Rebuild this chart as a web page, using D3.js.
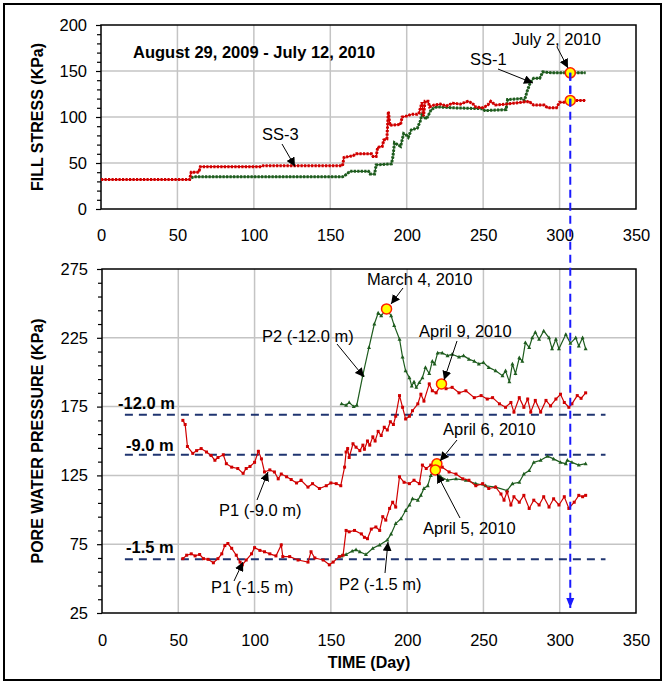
<!DOCTYPE html>
<html><head><meta charset="utf-8">
<script src="https://cdn.jsdelivr.net/npm/d3@7"></script>
<style>
body{margin:0;background:#fff;}
text{font-family:Arial,"Liberation Sans",sans-serif;}
</style></head>
<body>
<svg id="c" width="668" height="685"></svg>
<script>
// ---------- DATA ----------
const xTicks = [0,50,100,150,200,250,300,350];
const topYTicks = [0,50,100,150,200];
const botYTicks = [25,75,125,175,225,275];

// Fill stress (day, kPa)
const ss3 = [[0,32],[58,32],[59,40],[64,40],[65,46],[105,46],[106,47],[158,47],[159,56],[165,58],[167,60],[177,60],[178,57],[180,57],[181,67],[184,68],[185,75],[187,76],[188,106],[189,91],[196,92],[197,100],[200,101],[203,103],[207,103],[208,104],[210,116],[211,101],[212,117],[214,117],[215,111],[218,113],[222,114],[226,112],[230,115],[235,114],[240,117],[243,115],[245,111],[250,110],[253,113],[255,117],[258,113],[265,114],[270,115],[275,116],[280,117],[283,113],[290,113],[292,110],[298,110],[300,116],[306,116],[307,118],[317,118]];
const ss1 = [[59,34],[61,35],[158,35],[160,37],[163,41],[175,41],[176,38],[179,38],[180,48],[190,49],[191,57],[192,72],[194,70],[196,68],[198,82],[200,80],[201,78],[203,86],[207,88],[209,96],[210,104],[211,100],[213,98],[216,108],[218,110],[220,111],[230,110],[250,109],[251,107],[265,108],[266,119],[275,120],[277,118],[279,129],[281,138],[283,142],[287,142],[289,149],[295,148],[317,148]];

// Pore water pressure (day, kPa)
const p2_12 = [[157,177],[160,176],[162,178],[165,175],[167,176],[171,198],[175,218],[178.5,235],[181,243],[183,241],[186.5,246],[189.5,241],[191.5,234],[195,224],[197,211],[199,201],[201.5,196],[203,190],[204.5,193],[206,189],[208,192.5],[210,196],[212,203.5],[214.5,199],[216.5,208],[218,206],[220,214],[223,214],[226.5,212],[229.5,213],[234,211],[237,212],[240.5,209.5],[244,208],[247,206],[250,207],[253.5,203.5],[258,201],[262.5,197.5],[264.5,201],[267,193],[269,206],[271,199],[273.5,210.5],[275.5,208],[277.5,221.5],[280,218],[282,225],[284,229],[286.5,224],[289.5,230],[293,225],[295,217],[297.5,224],[299.5,217],[304,227.5],[307,221],[310.5,225],[312.5,219],[315,225],[317,217]];
const p1_9 = [[53,165],[54.5,162],[56,146],[59.5,141],[62,143],[65,144.5],[68.5,142],[71.5,139.5],[74,136],[76,138],[79.5,140],[81.5,133.5],[85,131],[89,130],[92.5,126.5],[94.5,130],[97,131.5],[100,134.5],[102.5,142.5],[104.5,137],[106.5,127.5],[110,129],[113,127.5],[115.5,122.5],[117.5,126],[121,124],[124,122],[127.5,119.5],[130.5,121.5],[135,116.5],[138,119],[142.5,115.5],[147,117.5],[150,119.5],[153.5,119],[156.5,117.5],[159,131],[160,142],[161,144.5],[162,138],[164.5,148],[166.5,145.5],[169,143],[171,147],[172,144],[174,150],[175.5,147],[177.5,153],[179,150],[181,157],[183,154],[185,160],[187,158],[189,164],[191,162],[192.5,168],[195,183],[197,174.5],[199,166],[201.5,168],[203.5,172],[207,177],[209,184],[211,179],[214.5,191.5],[216.5,186.5],[219,185],[222.5,191.5],[225.5,188],[229.5,189],[234,185],[238.5,186.5],[244,181.5],[248.5,183],[252.5,180.5],[256,181.5],[260.5,177],[264.5,174.5],[268,178],[270,171],[273.5,181.5],[276.5,174.5],[279,180.5],[281,171],[284,179.5],[287.5,171],[291,179.5],[294,175.5],[297.5,180.5],[300.5,184],[303,178],[306,174.5],[308,177],[311.5,183],[314,181],[317,185]];
const p1_15 = [[53,64.5],[55.5,67],[58.5,68],[61,66.5],[64,67.5],[66.5,64.5],[69.5,64],[73,61.5],[76,64.5],[78.5,68],[80.5,74],[82.5,75.5],[85,72],[88,67],[90.5,62],[92,60],[94.5,63.5],[98,68],[100,72.5],[103.5,70.5],[106.5,69.5],[110,68],[114,66.5],[117.5,74.5],[118.5,66],[123,66],[128.5,63.5],[135,62],[137,69.5],[139.5,65],[145,63.5],[149,60],[151.5,62],[155.5,66],[158,67],[160,85],[162,84],[165.5,85],[170,82.5],[172,80],[174,79],[176.5,86],[179.5,87.5],[182,85],[184,95],[186,92.5],[188.5,101],[190.5,105.5],[192.5,102],[195,124],[198,120],[201.5,119],[204.5,121.5],[208,119],[210,132.5],[212.5,130],[215.5,132.5],[219.5,133.5],[223,131],[227.5,127.5],[232,126],[236.5,122.5],[240.5,121.5],[245,117.5],[249.5,119],[253.5,115.5],[258,116.5],[261.5,111.5],[263.5,107],[265.5,113],[268,103.5],[270,109.5],[273.5,105.5],[276.5,110.5],[280,101],[283,107],[286.5,103.5],[289.5,109.5],[293,102],[296,108],[299.5,103.5],[303,109.5],[306,101],[309.5,105.5],[312.5,110.5],[315,109.5],[317,110.5]];
const p2_15 = [[157,66.5],[160,67.5],[164,70],[166.5,71],[169,69.5],[173,67.5],[177.5,72],[182,74.5],[187,78],[189.5,82.5],[192.5,90],[196,93.5],[199,99.5],[201.5,103.5],[203.5,108],[207,107],[209,110.5],[211,115.5],[213.5,117.5],[215.5,125],[218.5,129],[222,124],[226.5,121.5],[232,122.5],[238.5,121.5],[245,119],[251.5,117.5],[258,116.5],[265.5,114],[269,119],[273.5,120],[276.5,126],[280,128.5],[283,134.5],[287.5,136],[292,139],[296,137],[300.5,134.5],[304,133.5],[305,136],[308,134.5],[312.5,132.5],[317,133.5]];

// Reference depth levels (kPa)
const depthLevels = [{label:"-12.0 m", v:169},{label:"-9.0 m", v:140},{label:"-1.5 m", v:64}];
// Highlighted points
const topHighlights = [[307,148],[307,118]];
const botHighlights = [[186.5,246],[222.5,191.5],[219.5,133.5],[218.5,129]];
const markerDay = 307;

// ---------- DRAW ----------
const svg = d3.select("#c");
const RED = "#d00000", GREEN = "#1e5c1e", NAVY = "#1f3470", BLUE = "#1a1aff";
const FS = 16.5;

svg.append("rect").attr("x",4).attr("y",4).attr("width",657).attr("height",676)
  .attr("fill","none").attr("stroke","#000").attr("stroke-width",2);

const defs = svg.append("defs");
defs.append("marker").attr("id","ah").attr("viewBox","0 0 10 10").attr("refX",10).attr("refY",5)
  .attr("markerWidth",9).attr("markerHeight",9).attr("markerUnits","userSpaceOnUse").attr("orient","auto")
  .append("path").attr("d","M0,0L10,5L0,10z").attr("fill","#000");
defs.append("marker").attr("id","ahb").attr("viewBox","0 0 10 10").attr("refX",10).attr("refY",5)
  .attr("markerWidth",10).attr("markerHeight",10).attr("markerUnits","userSpaceOnUse").attr("orient","auto")
  .append("path").attr("d","M0,1L10,5L0,9z").attr("fill",BLUE);

function panel(cfg){
  const x = d3.scaleLinear().domain([0,350]).range([cfg.left,cfg.right]);
  const y = d3.scaleLinear().domain(cfg.ydom).range([cfg.bottom,cfg.top]);
  const g = svg.append("g");
  // grid
  g.append("g").selectAll("line").data(xTicks.slice(1,-1)).join("line")
    .attr("x1",d=>x(d)).attr("x2",d=>x(d)).attr("y1",cfg.top).attr("y2",cfg.bottom)
    .attr("stroke","#c4c4c4").attr("stroke-width",1.5);
  g.append("g").selectAll("line").data(cfg.yticks.slice(1,-1)).join("line")
    .attr("x1",cfg.left).attr("x2",cfg.right).attr("y1",d=>y(d)).attr("y2",d=>y(d))
    .attr("stroke","#c4c4c4").attr("stroke-width",1.5);
  // frame
  g.append("rect").attr("x",cfg.left).attr("y",cfg.top).attr("width",cfg.right-cfg.left).attr("height",cfg.bottom-cfg.top)
    .attr("fill","none").attr("stroke","#000").attr("stroke-width",1.5);
  // minor ticks
  const minor = d3.range(cfg.ydom[0],cfg.ydom[1]+0.1,10).filter(v=>!cfg.yticks.includes(v));
  g.append("g").attr("transform",`translate(${cfg.left},0)`)
    .call(d3.axisLeft(y).tickValues(minor).tickSize(4).tickFormat(""))
    .call(s=>s.select(".domain").remove()).selectAll("line").attr("stroke-width",1.2);
  const ya = g.append("g").attr("transform",`translate(${cfg.left},0)`)
    .call(d3.axisLeft(y).tickValues(cfg.yticks).tickSize(5).tickPadding(9));
  ya.select(".domain").remove();
  ya.selectAll("line").attr("stroke-width",1.2);
  ya.selectAll("text").attr("font-size",FS).attr("font-family","Arial, 'Liberation Sans'").attr("fill","#000");
  const xa = g.append("g").attr("transform",`translate(0,${cfg.bottom})`)
    .call(d3.axisBottom(x).tickValues(xTicks).tickSize(0).tickPadding(cfg.xpad));
  xa.select(".domain").remove();
  xa.selectAll("text").attr("font-size",FS).attr("font-family","Arial, 'Liberation Sans'").attr("fill","#000");
  return {x,y,g};
}

const T = panel({left:101,right:636,top:25,bottom:209,ydom:[0,200],yticks:topYTicks,xpad:20});
const B = panel({left:102,right:636,top:269,bottom:613,ydom:[25,275],yticks:botYTicks,xpad:21});

function series(P, data, color, dense, shape){
  const line = d3.line().x(d=>P.x(d[0])).y(d=>P.y(d[1]));
  P.g.append("path").attr("d",line(data)).attr("fill","none").attr("stroke",color).attr("stroke-width",1.2);
  if(dense){
    P.g.append("path").attr("d",line(data)).attr("fill","none").attr("stroke",color)
      .attr("stroke-width",3).attr("stroke-dasharray","2.2 1.3");
  }
  if(shape==="sq"){
    P.g.append("g").selectAll("rect").data(data).join("rect")
      .attr("x",d=>P.x(d[0])-1.5).attr("y",d=>P.y(d[1])-1.5).attr("width",3).attr("height",3).attr("fill",color);
  } else if(shape==="tri"){
    P.g.append("g").selectAll("path").data(data).join("path")
      .attr("d",d=>`M${P.x(d[0])},${P.y(d[1])-2.2}L${P.x(d[0])+2},${P.y(d[1])+1.5}L${P.x(d[0])-2},${P.y(d[1])+1.5}Z`)
      .attr("fill",color);
  }
}

// top series
series(T, ss1, GREEN, true, null);
series(T, ss3, RED, true, null);

// bottom reference lines
depthLevels.forEach(d=>{
  B.g.append("line").attr("x1",B.x(15)).attr("x2",B.x(330)).attr("y1",B.y(d.v)).attr("y2",B.y(d.v))
    .attr("stroke",NAVY).attr("stroke-width",2).attr("stroke-dasharray","8 6");
});
svg.append("text").attr("x",118).attr("y",409).attr("font-size",FS).attr("font-weight","bold").text(depthLevels[0].label);
svg.append("text").attr("x",126).attr("y",451).attr("font-size",FS).attr("font-weight","bold").text(depthLevels[1].label);
svg.append("text").attr("x",126).attr("y",553).attr("font-size",FS).attr("font-weight","bold").text(depthLevels[2].label);

// bottom series
series(B, p2_12, GREEN, false, "tri");
series(B, p2_15, GREEN, false, "tri");
series(B, p1_9, RED, false, "sq");
series(B, p1_15, RED, false, "sq");

// blue vertical dashed line
svg.append("line").attr("x1",T.x(markerDay)).attr("x2",T.x(markerDay))
  .attr("y1",T.y(topHighlights[0][1])).attr("y2",608)
  .attr("stroke",BLUE).attr("stroke-width",2).attr("stroke-dasharray","8 5").attr("marker-end","url(#ahb)");

// highlight circles
function hl(P, pts){
  P.g.append("g").selectAll("circle").data(pts).join("circle")
    .attr("cx",d=>P.x(d[0])).attr("cy",d=>P.y(d[1])).attr("r",5)
    .attr("fill","#ffff00").attr("stroke","#ff2000").attr("stroke-width",1.5);
}
hl(T, topHighlights);
hl(B, botHighlights);
// blue line over top circles
svg.append("line").attr("x1",T.x(markerDay)).attr("x2",T.x(markerDay))
  .attr("y1",T.y(topHighlights[0][1])).attr("y2",T.y(topHighlights[1][1])+6)
  .attr("stroke",BLUE).attr("stroke-width",2).attr("stroke-dasharray","8 5");

// annotations
function ann(txt, tx, ty, x1,y1,x2,y2, bold){
  const t = svg.append("text").attr("x",tx).attr("y",ty).attr("font-size",FS).text(txt);
  if(bold) t.attr("font-weight","bold");
  if(x1!=null) svg.append("line").attr("x1",x1).attr("y1",y1).attr("x2",x2).attr("y2",y2)
    .attr("stroke","#000").attr("stroke-width",1).attr("marker-end","url(#ah)");
}
ann("August 29, 2009 - July 12, 2010",133,58,null,null,null,null,true);
ann("SS-3",262,140,282,144,295,166.5);
ann("SS-1",470,65,498,69,533,83);
ann("July 2, 2010",512,45,557,47,568,68);
ann("March 4, 2010",367,285,403,288,391,304);
ann("P2 (-12.0 m)",262,342,337,344,364,377);
ann("April 9, 2010",419,337,457,341,444,380);
ann("April 6, 2010",443,435,457,440,440,461);
ann("April 5, 2010",423,534,460,518,437,474);
ann("P1 (-9.0 m)",219,516,257,500,268,472);
ann("P1 (-1.5 m)",211,593,234,581,243,562);
ann("P2 (-1.5 m)",339,590,385,573,388,542);

// axis titles
svg.append("text").attr("transform","translate(43,117) rotate(-90)").attr("text-anchor","middle")
  .attr("font-size",16).attr("font-weight","bold").text("FILL STRESS (KPa)");
svg.append("text").attr("transform","translate(43,441) rotate(-90)").attr("text-anchor","middle")
  .attr("font-size",16).attr("font-weight","bold").text("PORE WATER PRESSURE (KPa)");
svg.append("text").attr("x",369).attr("y",668).attr("text-anchor","middle")
  .attr("font-size",16).attr("font-weight","bold").text("TIME (Day)");
</script>
</body></html>
